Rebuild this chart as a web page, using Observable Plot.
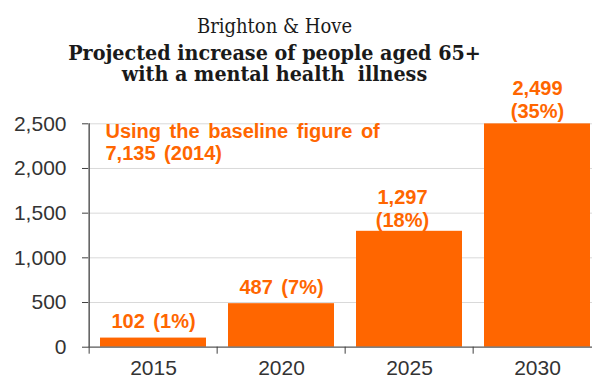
<!DOCTYPE html>
<html><head><meta charset="utf-8">
<script src="https://cdn.jsdelivr.net/npm/d3@7"></script>
<script src="https://cdn.jsdelivr.net/npm/@observablehq/plot@0.6"></script>
<style>
  html, body { margin: 0; padding: 0; background: #fff; overflow: hidden; }
  #wrap { position: relative; width: 592px; height: 379px; }
  #title { position: absolute; left: 0; top: 16px; width: 549px; text-align: center; color: #1a1a1a; font-family: "DejaVu Serif Condensed", "DejaVu Serif", serif; }
  #title .t1 { font-size: 20px; line-height: 20px; height: 20px; font-weight: normal; }
  #title .t2 { font-size: 21.3px; line-height: 21.7px; height: 21.7px; font-weight: bold; white-space: pre; }
  #title .gap { height: 5.8px; }
  #chart { position: absolute; left: 0; top: 0; }
</style>
</head><body>
<div id="wrap">
  <div id="chart"></div>
  <div id="title">
    <div class="t1">Brighton &amp; Hove</div>
    <div class="gap"></div>
    <div class="t2">Projected increase of people aged 65+</div>
    <div class="t2">with a mental health  illness</div>
  </div>
</div>
<script>
// Data
const years = ["2015", "2020", "2025", "2030"];
const increase = [102, 487, 1297, 2499];
const percent = [1, 7, 18, 35];
const yTicks = [0, 500, 1000, 1500, 2000, 2500];
const note = "Using the baseline figure of\n7,135 (2014)";

const data = years.map((year, i) => ({year, value: increase[i], pct: percent[i]}));
const fmt = d3.format(",");
const orange = "#FF6600";
const half = (602.8 - 88) / years.length / 2; // half a band step, for boundary ticks

const oneLine = data.filter(d => d.value < 1000);
const twoLine = data.filter(d => d.value >= 1000);

const chart = Plot.plot({
  width: 592,
  height: 379,
  marginLeft: 88,
  marginRight: 0,
  marginTop: 123.3,
  marginBottom: 32.3,
  style: {fontFamily: "'Liberation Sans', Arial, sans-serif", fontSize: "21px", background: "transparent", overflow: "hidden"},
  x: {type: "band", domain: years, range: [88, 602.8], paddingInner: 0.17, paddingOuter: 0.085},
  y: {domain: [0, 2500]},
  marks: [
    Plot.gridY(yTicks.filter(t => t > 0), {stroke: "#d9d9d9", strokeOpacity: 1, strokeWidth: 1}),
    Plot.barY(data, {x: "year", y: "value", fill: orange}),
    Plot.ruleY([0], {stroke: "#595959", strokeWidth: 1.3}),
    Plot.ruleX(years.slice(0, 1), {x: d => d, dx: -half, stroke: "#404040", strokeWidth: 1.3}),
    Plot.axisY({ticks: yTicks, tickFormat: fmt, tickSize: 6, tickPadding: 16, stroke: "#404040", fill: "#333", fontSize: 21, label: null}),
    Plot.axisX({tickSize: 7, tickFormat: () => "", dx: -half, stroke: "#404040", label: null}),
    Plot.axisX({tickSize: 0, tickPadding: 12.5, fill: "#333", fontSize: 21, label: null}),
    Plot.text(oneLine, {x: "year", y: "value", text: d => `${fmt(d.value)} (${d.pct}%)`, lineAnchor: "bottom", dy: -10, fill: orange, fontWeight: "bold", fontSize: 20}),
    Plot.text(twoLine.filter(d => d.year === "2025"), {x: "year", y: "value", text: d => `${fmt(d.value)}\n(${d.pct}%)`, lineAnchor: "bottom", lineHeight: 1.15, dy: -4, dx: -7, fill: orange, fontWeight: "bold", fontSize: 20}),
    Plot.text(twoLine.filter(d => d.year === "2030"), {x: "year", y: "value", text: d => `${fmt(d.value)}\n(${d.pct}%)`, lineAnchor: "bottom", lineHeight: 1.12, dy: -6, fill: orange, fontWeight: "bold", fontSize: 20}),
    Plot.text([note], {text: d => d, frameAnchor: "top-left", textAnchor: "start", lineAnchor: "top", lineHeight: 1.1, dx: 17, dy: -1, fill: orange, fontWeight: "bold", fontSize: 20})
  ]
});
chart.querySelectorAll("text").forEach(t => {
  if (t.getAttribute("fill") === orange || (t.parentNode && t.parentNode.getAttribute && t.parentNode.getAttribute("fill") === orange)) t.style.wordSpacing = "3px";
});
document.getElementById("chart").append(chart);
</script>
</body></html>
